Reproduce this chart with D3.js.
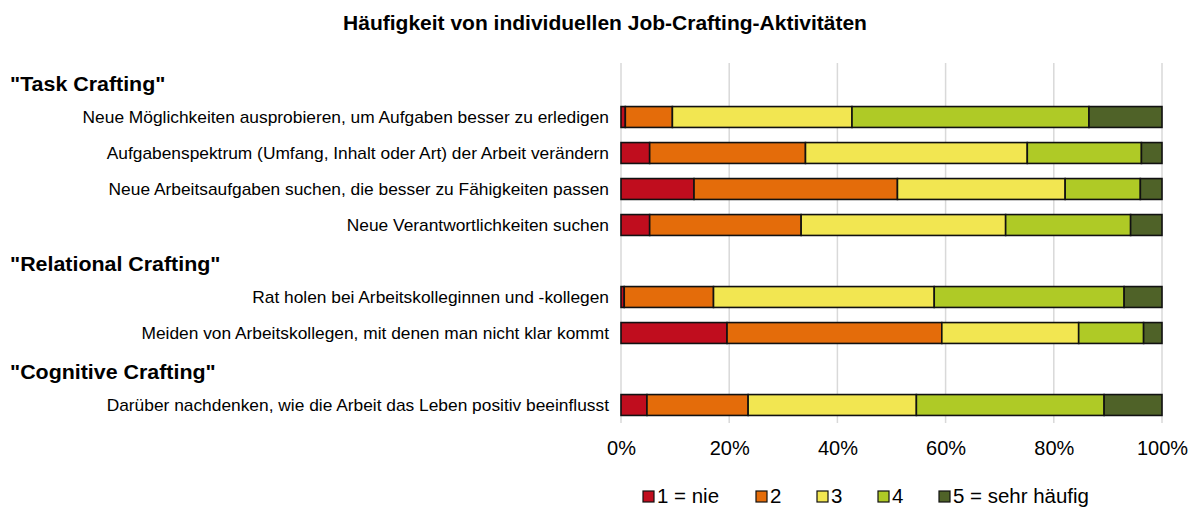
<!DOCTYPE html>
<html lang="de">
<head>
<meta charset="UTF-8">
<title>Häufigkeit von individuellen Job-Crafting-Aktivitäten</title>
<script src="https://cdn.jsdelivr.net/npm/d3@7"></script>
<style>
body {
    margin: 0;
    background: #fff;
    font-family: "Liberation Sans", Arial, sans-serif;
}
svg { display: block; }
</style>
</head>
<body>
<svg width="1196" height="510"></svg>
<script>
// data
const groups = ['"Task Crafting"', '"Relational Crafting"', '"Cognitive Crafting"'];
const items = [
    "Neue Möglichkeiten ausprobieren, um Aufgaben besser zu erledigen",
    "Aufgabenspektrum (Umfang, Inhalt oder Art) der Arbeit verändern",
    "Neue Arbeitsaufgaben suchen, die besser zu Fähigkeiten passen",
    "Neue Verantwortlichkeiten suchen",
    "Rat holen bei Arbeitskolleginnen und -kollegen",
    "Meiden von Arbeitskollegen, mit denen man nicht klar kommt",
    "Darüber nachdenken, wie die Arbeit das Leben positiv beeinflusst"
];
const itemGroup = [0, 0, 0, 0, 1, 1, 2];
const levels = ["1 = nie", "2", "3", "4", "5 = sehr häufig"];
const nie   = [0.8, 5.3, 13.5, 5.3, 0.6, 19.6, 4.8];
const zwei  = [8.7, 28.8, 37.6, 28.0, 16.5, 39.7, 18.7];
const drei  = [33.2, 41.0, 31.0, 37.8, 40.8, 25.3, 31.1];
const vier  = [43.8, 21.1, 13.9, 23.1, 35.1, 12.0, 34.7];
const fuenf = [13.5, 3.8, 4.0, 5.8, 7.0, 3.4, 10.7];
const xTicks = [0, 20, 40, 60, 80, 100];
const colors = ["#c00d1e", "#e46c0a", "#f2e651", "#afca26", "#4f6228"];

const svg = d3.select("svg");

// rows: a header slot before each group, then its items
const slots = [];
groups.forEach((g, gi) => {
    slots.push("g" + gi);
    items.forEach((it, i) => { if (itemGroup[i] === gi) slots.push("i" + i); });
});

const x = d3.scaleLinear().domain([0, 100]).range([621, 1162]);
const y = d3.scaleBand().domain(slots).range([63, 423]).paddingInner(0.42).paddingOuter(0.21);
const color = d3.scaleOrdinal().domain(levels).range(colors);

const rows = items.map((name, i) => ({
    key: "i" + i, name,
    [levels[0]]: nie[i], [levels[1]]: zwei[i], [levels[2]]: drei[i],
    [levels[3]]: vier[i], [levels[4]]: fuenf[i]
}));

// title
svg.append("text")
    .attr("x", 605).attr("y", 30)
    .attr("text-anchor", "middle")
    .style("font-weight", "bold")
    .style("font-size", "21px")
    .attr("fill", "#000")
    .text("Häufigkeit von individuellen Job-Crafting-Aktivitäten");

// grid
svg.append("g").selectAll("line")
    .data(xTicks)
    .join("line")
    .attr("x1", d => x(d)).attr("x2", d => x(d))
    .attr("y1", 63).attr("y2", 423)
    .attr("stroke", "#d9d9d9")
    .attr("stroke-width", 1.5);

// bars
const stack = d3.stack().keys(levels)(rows);
svg.append("g").selectAll("g")
    .data(stack)
    .join("g")
    .attr("fill", d => color(d.key))
    .selectAll("rect")
    .data(d => d)
    .join("rect")
    .attr("x", d => x(d[0]))
    .attr("y", d => y(d.data.key))
    .attr("width", d => x(d[1]) - x(d[0]))
    .attr("height", y.bandwidth())
    .attr("stroke", "#111")
    .attr("stroke-width", 1.6);

// item labels
svg.append("g").selectAll("text")
    .data(rows)
    .join("text")
    .attr("x", 609)
    .attr("y", d => y(d.key) + y.bandwidth() / 2)
    .attr("text-anchor", "end")
    .attr("dy", "0.35em")
    .style("font-size", "17.35px")
    .attr("fill", "#000")
    .text(d => d.name);

// group headers
svg.append("g").selectAll("text")
    .data(groups)
    .join("text")
    .attr("transform", (d, i) => `translate(10,${y("g" + i) + y.bandwidth() / 2 + 10}) scale(1.07,1)`)
    .style("font-weight", "bold")
    .style("font-size", "20px")
    .attr("fill", "#000")
    .text(d => d);

// x axis
const axis = svg.append("g")
    .attr("transform", "translate(0,441)")
    .call(d3.axisBottom(x).tickValues(xTicks).tickFormat(d => d + "%").tickSize(0).tickPadding(0));
axis.select(".domain").remove();
axis.selectAll("text")
    .style("font-size", "20px")
    .style("font-family", '"Liberation Sans", Arial, sans-serif')
    .attr("fill", "#000");

// legend
const legendX = [643, 756, 817, 878, 939];
const leg = svg.append("g").selectAll("g")
    .data(levels)
    .join("g")
    .attr("transform", (d, i) => `translate(${legendX[i]},491)`);
leg.append("rect")
    .attr("width", 11).attr("height", 11)
    .attr("fill", d => color(d))
    .attr("stroke", "#111")
    .attr("stroke-width", 1.2);
leg.append("text")
    .attr("transform", "translate(14,12) scale(1.05,1)")
    .style("font-size", "19.5px")
    .attr("fill", "#000")
    .text(d => d);
</script>
</body>
</html>
